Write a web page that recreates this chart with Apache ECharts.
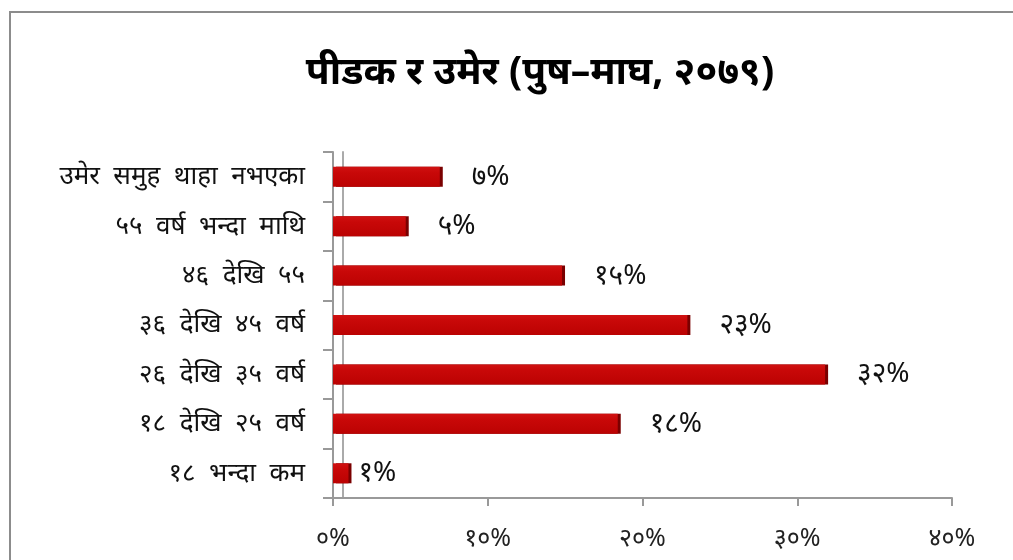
<!DOCTYPE html>
<html>
<head>
<meta charset="utf-8">
<script src="https://cdn.jsdelivr.net/npm/echarts@6/dist/echarts.min.js"></script>
<style>
html,body{margin:0;padding:0;background:#fff;overflow:hidden;}
#frame{position:absolute;left:9px;top:11px;width:1100px;height:700px;border:2px solid #8c8c8c;box-sizing:border-box;}
#main{position:absolute;left:0;top:0;width:1013px;height:560px;}
</style>
</head>
<body>
<div id="frame"></div>
<div id="main"></div>
<script>
const titleText = 'पीडक र उमेर (पुष–माघ, २०७९)';
const categories = ['१८ भन्दा कम','१८ देखि २५ वर्ष','२६ देखि ३५ वर्ष','३६ देखि ४५ वर्ष','४६ देखि ५५','५५ वर्ष भन्दा माथि','उमेर समुह थाहा नभएका'];
const values = [1.0, 18.4, 31.8, 22.9, 14.8, 4.7, 6.9];
const valueLabels = ['१%','१८%','३२%','२३%','१५%','५%','७%'];
const xTickLabels = {0:'०%',10:'१०%',20:'२०%',30:'३०%',40:'४०%'};

const FONT = '"Noto Sans", "Noto Sans CJK SC", sans-serif';
const chart = echarts.init(document.getElementById('main'));
chart.setOption({
  animation:false,
  backgroundColor:'transparent',
  title:{text:titleText,left:535,textAlign:'center',top:48,
    textStyle:{fontFamily:FONT,fontSize:39,fontWeight:'bold',color:'#000'}},
  grid:{left:333,right:61,top:152,bottom:62,containLabel:false},
  xAxis:{type:'value',min:0,max:40,interval:10,
    axisLine:{show:true,lineStyle:{color:'#999',width:2}},
    axisTick:{show:true,length:8,lineStyle:{color:'#999',width:2}},
    splitLine:{show:false},
    axisLabel:{margin:28,fontFamily:FONT,fontSize:25,color:'#222',formatter:v=>xTickLabels[v]}},
  yAxis:[{type:'category',data:categories,
    axisLine:{show:true,lineStyle:{color:'#999',width:2}},
    axisTick:{show:true,length:10,lineStyle:{color:'#999',width:2}},
    axisLabel:{margin:28,fontFamily:FONT,fontSize:26,color:'#111',formatter:s=>s.split(' ').join('  ')}},
    {type:'category',data:categories,position:'left',offset:-10,
    axisLine:{show:true,lineStyle:{color:'#aaa',width:2}},
    axisTick:{show:false},axisLabel:{show:false}}],
  series:[{type:'bar',barWidth:20,
    data:values.map((v,i)=>({value:v,label:{distance:i===0?10:32}})),
    itemStyle:{color:new echarts.graphic.LinearGradient(0,0,0,1,[{offset:0,color:'#d01212'},{offset:0.3,color:'#c80808'},{offset:1,color:'#bb0202'}]),
      shadowColor:'#7a0000',shadowOffsetX:3,shadowOffsetY:0,shadowBlur:0},
    label:{show:true,position:'right',fontFamily:FONT,fontSize:28,color:'#111',
      formatter:p=>valueLabels[p.dataIndex]}}]
});
</script>
</body>
</html>
